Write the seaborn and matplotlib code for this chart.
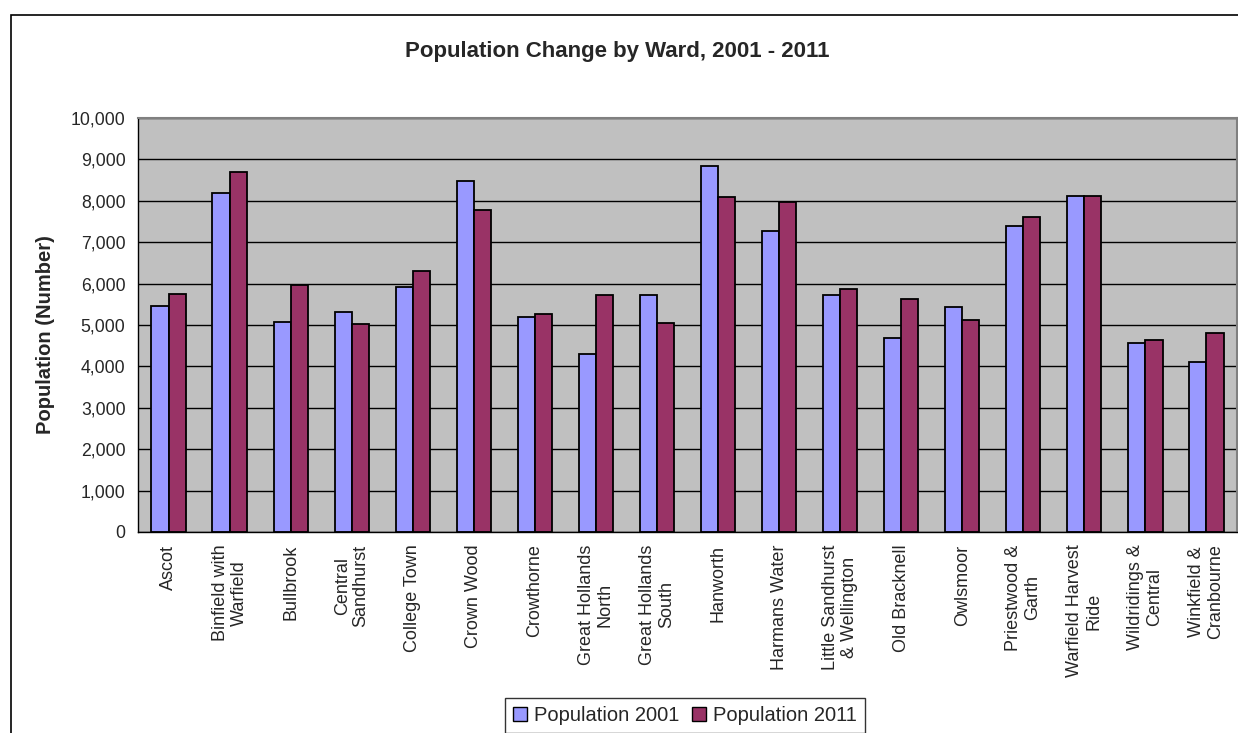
import pandas as pd
import numpy as np
import matplotlib
matplotlib.use('Agg')
import matplotlib.pyplot as plt
import matplotlib.patches as mpatches
from matplotlib.ticker import FuncFormatter, FixedLocator
import seaborn as sns

wards = ['Ascot', 'Binfield with\nWarfield', 'Bullbrook', 'Central\nSandhurst',
         'College Town', 'Crown Wood', 'Crowthorne', 'Great Hollands\nNorth',
         'Great Hollands\nSouth', 'Hanworth', 'Harmans Water',
         'Little Sandhurst\n& Wellington', 'Old Bracknell', 'Owlsmoor',
         'Priestwood &\nGarth', 'Warfield Harvest\nRide', 'Wildridings &\nCentral',
         'Winkfield &\nCranbourne']
pop_2001 = [5470, 8200, 5070, 5310, 5920, 8490, 5190, 4310, 5720, 8850,
            7280, 5720, 4680, 5430, 7400, 8120, 4560, 4110]
pop_2011 = [5760, 8690, 5960, 5020, 6310, 7770, 5270, 5720, 5060, 8080,
            7960, 5880, 5640, 5110, 7610, 8120, 4630, 4800]
series_names = ['Population 2001', 'Population 2011']
colors = ['#9999FF', '#993366']


def build_frame():
    df = pd.DataFrame({'Ward': wards * 2,
                       'Series': [series_names[0]] * len(wards) + [series_names[1]] * len(wards),
                       'Population': pop_2001 + pop_2011})
    return df


def main():
    sns.set_style('white')
    plt.rcParams['font.family'] = ['Liberation Sans', 'DejaVu Sans']

    W, H = 1238, 733
    fig = plt.figure(figsize=(W / 100, H / 100), dpi=100)
    ax = fig.add_axes([138 / W, (H - 532) / H, (1237 - 138) / W, (532 - 118) / H])

    df = build_frame()
    sns.barplot(data=df, x='Ward', y='Population', hue='Series', palette=colors,
                width=0.56, gap=0, edgecolor='black', linewidth=1.3,
                legend=False, ax=ax, saturation=1)

    ax.set_facecolor('#C0C0C0')
    ax.set_ylim(0, 10000)
    ax.set_xlim(-0.5, len(wards) - 0.5)
    ax.set_yticks(np.arange(0, 10001, 1000))
    ax.yaxis.set_major_formatter(FuncFormatter(lambda v, p: f'{int(v):,}'))
    ax.yaxis.grid(True, color='black', linewidth=1)
    ax.set_axisbelow(True)

    # x ticks: labels centered, tick marks at category boundaries
    ax.set_xticks(range(len(wards)))
    ax.set_xticklabels(wards, rotation=90, ha='center', va='top',
                       multialignment='center', linespacing=1.15, fontsize=13)
    ax.tick_params(axis='x', which='major', length=0, pad=9)
    ax.xaxis.set_minor_locator(FixedLocator(np.arange(-0.5, len(wards), 1.0)))
    ax.tick_params(axis='x', which='minor', length=5, width=1, color='black', direction='out')
    ax.tick_params(axis='y', length=5, width=1, color='black', direction='out',
                   labelsize=12.7, pad=4)

    ax.set_xlabel('')
    ax.set_ylabel('Population (Number)', fontsize=14.5, fontweight='bold')
    ax.yaxis.set_label_coords(-0.0755, 0.478)

    for side in ['left', 'bottom']:
        ax.spines[side].set_color('black')
        ax.spines[side].set_linewidth(1)
    for side in ['top', 'right']:
        ax.spines[side].set_color('#808080')
        ax.spines[side].set_linewidth(1.5)

    fig.text(617 / W, 1 - 52 / H, 'Population Change by Ward, 2001 - 2011',
             ha='center', va='center', fontsize=16, fontweight='bold')

    # outer chart border (cut off at right and bottom)
    border = mpatches.Rectangle((11 / W, -0.1), 1.2, 1 - 15 / H + 0.1,
                                transform=fig.transFigure, fill=False,
                                edgecolor='black', linewidth=1.2)
    fig.patches.append(border)

    handles = [mpatches.Patch(facecolor=c, edgecolor='black', linewidth=1, label=n)
               for c, n in zip(colors, series_names)]
    leg = fig.legend(handles=handles, loc='upper left',
                     bbox_to_anchor=(505 / W, 1 - 698 / H), ncol=2,
                     frameon=True, fancybox=False, fontsize=14.5,
                     handlelength=0.7, handleheight=0.7, handletextpad=0.35,
                     columnspacing=0.6, borderpad=0.4, borderaxespad=0)
    leg.get_frame().set_edgecolor('black')
    leg.get_frame().set_linewidth(1)

    fig.savefig('out.png', dpi=100, facecolor='white')


if __name__ == "__main__":
    main()
